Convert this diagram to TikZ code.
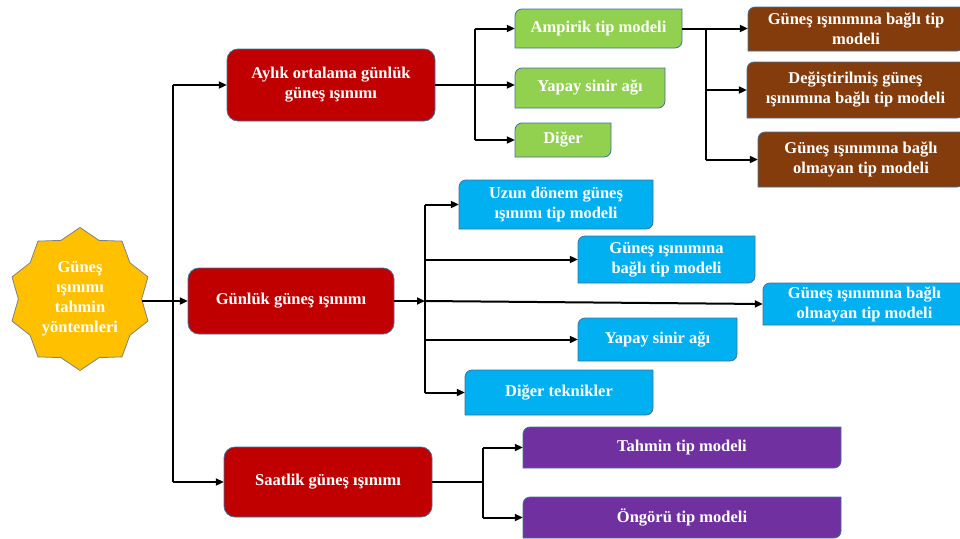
\documentclass[tikz,border=0pt]{standalone}
\usepackage{fontspec}
\setmainfont{Liberation Serif}
\usepackage{tikz}
\usetikzlibrary{arrows.meta,shapes.geometric}

\definecolor{kirmizi}{HTML}{C00000}
\definecolor{yesil}{HTML}{92D050}
\definecolor{kahve}{HTML}{843C0C}
\definecolor{mavi}{HTML}{00B0F0}
\definecolor{mor}{HTML}{7030A0}
\definecolor{sari}{HTML}{FFC000}
\definecolor{kenar}{HTML}{41719C}

\tikzset{
  yazi/.style={text=white, font=\fontsize{16.5}{20}\selectfont\bfseries, align=center, inner sep=0pt},
  kenarcizgi/.style={draw=kenar, line width=0.8pt},
  cizgi/.style={line width=2pt},
  ok/.style={cizgi, -{Triangle[length=8pt,width=7pt]}}
}

% köşegen köşeleri yuvarlatılmış kutu: ad, renk, sol, üst, sağ, alt, metin
\newcommand{\kosekutu}[7]{%
  \filldraw[fill=#2, kenarcizgi] (#3,#6) -- (#3,#4+7) arc[start angle=180,end angle=270,radius=7]
    -- (#5,#4) -- (#5,#6-7) arc[start angle=0,end angle=90,radius=7] -- cycle;
  \node[yazi, minimum width={#5-#3}, minimum height={#6-#4}] (#1) at ({(#3+#5)/2},{(#4+#6)/2}) {#7};
}
% tüm köşeleri yuvarlatılmış kırmızı kutu: ad, sol, üst, sağ, alt, metin
\newcommand{\anakutu}[6]{%
  \filldraw[fill=kirmizi, kenarcizgi, rounded corners=11pt] (#2,#3) rectangle (#4,#5);
  \node[yazi, minimum width={#4-#2}, minimum height={#5-#3}] (#1) at ({(#2+#4)/2},{(#3+#5)/2}) {#6};
}

\begin{document}
\begin{tikzpicture}[x=1pt,y=-1pt]
  \useasboundingbox (0,0) rectangle (960,538);
  % yıldız
  \node[star, star points=10, star point ratio=1.16, minimum size=143pt, inner sep=0pt,
        fill=sari, draw=black!50, line width=0.8pt] (star) at (80,299) {};
  \node[yazi] (startxt) at (star.center) {Güneş\\ışınımı\\tahmin\\yöntemleri};
  % ana kutular
  \anakutu{ayl}{227}{49}{435}{121}{Aylık ortalama günlük\\güneş ışınımı}
  \anakutu{gun}{188}{268}{394}{334}{Günlük güneş ışınımı}
  \anakutu{saat}{224}{447}{432}{517}{Saatlik güneş ışınımı}
  % aylık dalı
  \kosekutu{amp}{yesil}{515}{9}{682}{48}{Ampirik tip modeli}
  \kosekutu{yap1}{yesil}{515}{68}{665}{108}{Yapay sinir ağı}
  \kosekutu{dig1}{yesil}{515}{123}{611}{157}{Diğer}
  \kosekutu{k1}{kahve}{748}{7}{964}{51}{Güneş ışınımına bağlı tip\\modeli}
  \kosekutu{k2}{kahve}{747}{62}{964}{118}{Değiştirilmiş güneş\\ışınımına bağlı tip modeli}
  \kosekutu{k3}{kahve}{758}{132}{964}{187}{Güneş ışınımına bağlı\\olmayan tip modeli}
  % günlük dalı
  \kosekutu{m1}{mavi}{459}{180}{653}{229}{Uzun dönem güneş\\ışınımı tip modeli}
  \kosekutu{m2}{mavi}{578}{236}{755}{283}{Güneş ışınımına\\bağlı tip modeli}
  \kosekutu{m3}{mavi}{763}{283}{966}{325}{Güneş ışınımına bağlı\\olmayan tip modeli}
  \kosekutu{m4}{mavi}{578}{318}{737}{361}{Yapay sinir ağı}
  \kosekutu{m5}{mavi}{465}{370}{653}{415}{Diğer teknikler}
  % saatlik dalı
  \kosekutu{p1}{mor}{523}{427}{841}{468}{Tahmin tip modeli}
  \kosekutu{p2}{mor}{523}{497}{841}{538}{Öngörü tip modeli}

  % dağıtım hatları
  \coordinate (d1) at (173,0);
  \coordinate (d2) at (475,0);
  \coordinate (d3) at (706,0);
  \coordinate (d4) at (425,0);
  \coordinate (d5) at (483,0);

  \draw[ok] (star.east |- gun.west) -- (gun.west);
  \draw[cizgi] (d1 |- ayl.west) -- (d1 |- saat.west);
  \draw[ok] (d1 |- ayl.west) -- (ayl.west);
  \draw[ok] (d1 |- saat.west) -- (saat.west);

  \draw[ok] (ayl.east) -- (ayl.east -| yap1.west);
  \draw[cizgi] (d2 |- amp.west) -- (d2 |- dig1.west);
  \draw[ok] (d2 |- amp.west) -- (amp.west);
  \draw[ok] (d2 |- dig1.west) -- (dig1.west);

  \draw[ok] (amp.east) -- (amp.east -| k1.west);
  \draw[cizgi] (d3 |- amp.east) -- (d3 |- k3.west);
  \draw[ok] (d3 |- k2.west) -- (k2.west);
  \draw[ok] (d3 |- k3.west) -- (k3.west);

  \draw[ok] (gun.east) -- (d4 |- gun.east);
  \draw[cizgi] (d4 |- m1.west) -- (d4 |- m5.west);
  \draw[ok] (d4 |- m1.west) -- (m1.west);
  \draw[ok] (d4 |- m2.west) -- (m2.west);
  \draw[ok] (d4 |- gun.east) -- (m3.west);
  \draw[ok] (d4 |- m4.west) -- (m4.west);
  \draw[ok] (d4 |- m5.west) -- (m5.west);

  \draw[cizgi] (saat.east) -- (d5 |- saat.east);
  \draw[cizgi] (d5 |- p1.west) -- (d5 |- p2.west);
  \draw[ok] (d5 |- p1.west) -- (p1.west);
  \draw[ok] (d5 |- p2.west) -- (p2.west);
\end{tikzpicture}
\end{document}
